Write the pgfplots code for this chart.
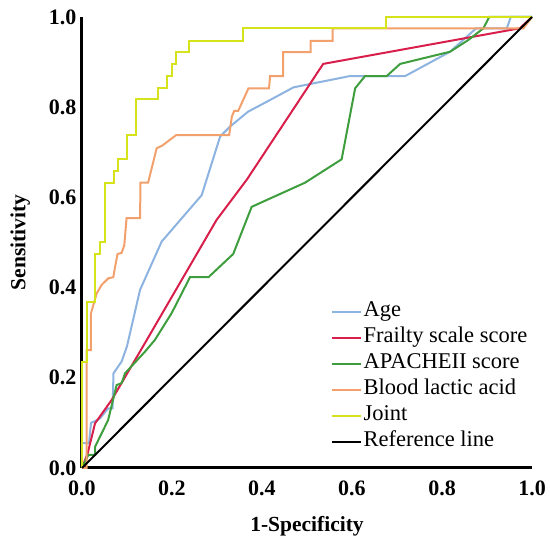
\documentclass[border=0pt]{standalone}
\usepackage{pgfplots}
\pgfplotsset{compat=1.18}
\usepackage{fontspec}
\setmainfont{Liberation Serif}

\definecolor{cage}{HTML}{8DB3E0}
\definecolor{cfrail}{HTML}{D81E4A}
\definecolor{capache}{HTML}{3E9E3E}
\definecolor{cblood}{HTML}{F2A06C}
\definecolor{cjoint}{HTML}{D6E21A}

\begin{document}
\begin{tikzpicture}
\begin{axis}[
    at={(0,0)}, anchor=south west,
    scale only axis,
    width=450pt, height=451pt,
    xmin=0, xmax=1, ymin=0, ymax=1,
    axis x line=bottom, axis y line=left,
    axis line style={-, line width=3pt},
    xtick={0,0.2,...,1}, ytick={0,0.2,...,1},
    major tick length=0pt,
    /pgf/number format/assume math mode=true,
    /pgf/number format/fixed, /pgf/number format/fixed zerofill,
    /pgf/number format/precision=1,
    tick label style={font=\fontsize{22}{26}\selectfont\bfseries},
    xticklabel style={yshift=-9pt},
    yticklabel style={xshift=-2pt},
    xlabel={1-Specificity}, ylabel={Sensitivity},
    label style={font=\fontsize{21.5}{26}\selectfont\bfseries},
    xlabel style={yshift=-14pt},
    ylabel style={yshift=12pt},
    clip=false,
    legend cell align=left,
    legend style={at={(1.0,0.025)}, anchor=south east, draw=none, fill=none,
      font=\fontsize{22.5}{26}\selectfont, row sep=0pt,
      nodes={inner sep=1.5pt, text height=16pt, text depth=7pt}},
    legend image code/.code={\draw[#1] (0pt,0pt) -- (29pt,0pt);},
]
\addplot[cage, line width=2pt] coordinates {(0,0) (0,0.055) (0.0156,0.055) (0.02,0.10) (0.033,0.106) (0.04,0.11) (0.058,0.132) (0.068,0.132) (0.07,0.21) (0.088,0.236) (0.1,0.27) (0.129,0.395) (0.177,0.502) (0.266,0.605) (0.307,0.735) (0.329,0.757) (0.369,0.790) (0.418,0.816) (0.47,0.844) (0.595,0.869) (0.718,0.869) (0.818,0.923) (0.876,0.975) (0.944,0.975) (0.953,1) (1,1)};
\addlegendentry{Age}
\addplot[cfrail, line width=2pt] coordinates {(0,0) (0.0126,0.0326) (0.029,0.099) (0.066,0.151) (0.144,0.284) (0.299,0.55) (0.366,0.639) (0.536,0.896) (0.973,0.975) (1,1)};
\addlegendentry{Frailty scale score}
\addplot[capache, line width=2pt] coordinates {(0,0) (0.014,0.029) (0.029,0.029) (0.029,0.047) (0.0437,0.077) (0.058,0.106) (0.077,0.184) (0.088,0.188) (0.0956,0.21) (0.14,0.258) (0.162,0.284) (0.199,0.343) (0.24,0.423) (0.281,0.423) (0.336,0.4745) (0.377,0.579) (0.41,0.594) (0.4956,0.6326) (0.577,0.6845) (0.607,0.842) (0.629,0.869) (0.677,0.869) (0.707,0.896) (0.818,0.923) (0.86,0.95) (0.892,0.975) (0.905,1) (1,1)};
\addlegendentry{APACHEII score}
\addplot[cblood, line width=2pt] coordinates {(0,0) (0.0104,0) (0.0104,0.2616) (0.020,0.2616) (0.020,0.343) (0.0326,0.387) (0.0437,0.406) (0.0585,0.4206) (0.0696,0.423) (0.0733,0.445) (0.079,0.4745) (0.088,0.477) (0.094,0.494) (0.099,0.554) (0.129,0.554) (0.130,0.633) (0.147,0.633) (0.166,0.709) (0.178,0.7146) (0.209,0.738) (0.327,0.738) (0.333,0.779) (0.338,0.7916) (0.347,0.7916) (0.370,0.842) (0.4156,0.842) (0.418,0.869) (0.447,0.869) (0.447,0.922) (0.508,0.922) (0.508,0.947) (0.557,0.947) (0.557,0.975) (0.981,0.975) (1,1)};
\addlegendentry{Blood lactic acid}
\addplot[cjoint, line width=2pt] coordinates {(0,0) (0,0.236) (0.0104,0.236) (0.0104,0.369) (0.030,0.369) (0.030,0.4745) (0.040,0.4745) (0.040,0.502) (0.051,0.502) (0.051,0.633) (0.072,0.633) (0.072,0.659) (0.081,0.659) (0.081,0.685) (0.099,0.685) (0.099,0.738) (0.119,0.738) (0.119,0.8175) (0.168,0.8175) (0.168,0.842) (0.189,0.842) (0.189,0.869) (0.199,0.869) (0.199,0.896) (0.209,0.896) (0.209,0.922) (0.238,0.922) (0.238,0.947) (0.358,0.947) (0.358,0.975) (0.676,0.975) (0.676,1) (1,1)};
\addlegendentry{Joint}
\addplot[black, line width=2pt] coordinates {(0,0) (1,1)};
\addlegendentry{Reference line}
\end{axis}
\pgfresetboundingbox
\path (-82pt,-73pt) rectangle (468pt,468pt);
\end{tikzpicture}
\end{document}
